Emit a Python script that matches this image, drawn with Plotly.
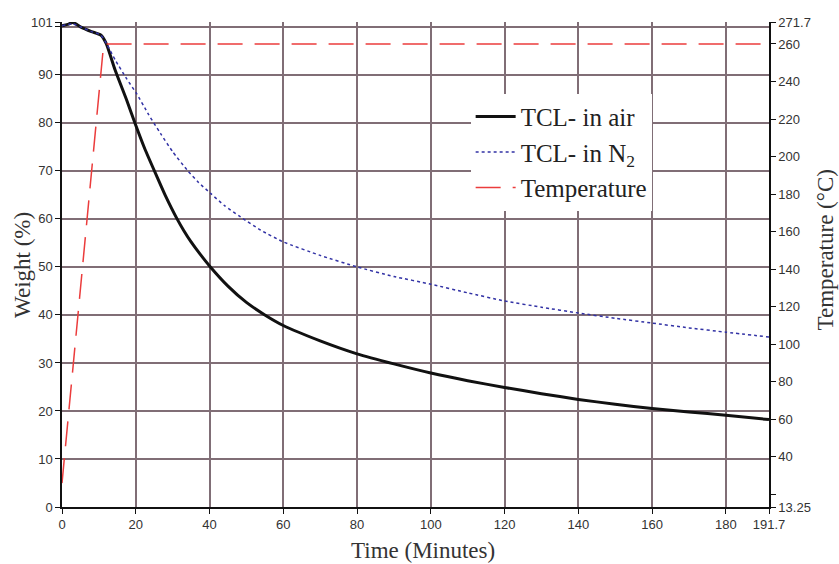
import plotly.graph_objects as go

# Time (minutes) / weight (%) for TCL in air
t_air = [0, 1.5, 3, 5, 8, 10.5, 12, 14.4, 17.6, 20, 22.5, 25.8, 28, 31.2, 33, 35, 37.5, 40,
         45, 50, 55, 60, 70, 80, 90, 100, 110, 120, 130, 140, 150, 160, 170, 180, 191.7]
w_air = [100.2, 100.5, 100.9, 100.0, 99.0, 98.3, 96.5, 91.0, 84.6, 79.5, 74.5, 68.7, 64.9,
         60.0, 57.6, 55.2, 52.6, 50.2, 46.0, 42.6, 40.0, 37.8, 34.6, 31.9, 29.8, 27.9,
         26.3, 24.9, 23.6, 22.4, 21.4, 20.5, 19.8, 19.1, 18.2]

# TCL in N2
t_n2 = [0, 3, 5, 8, 10.5, 12.2, 14.5, 17.6, 20.3, 23.5, 26.7, 30, 33.9, 37, 40.3, 44,
        48.4, 54, 60, 70, 80, 90, 100, 110, 120, 130, 140, 150, 160, 170, 180, 191.7]
w_n2 = [100.2, 100.6, 100.0, 99.0, 98.3, 96.3, 93.0, 89.1, 86.0, 81.7, 77.8, 74.0, 70.2,
        67.6, 65.3, 62.8, 60.4, 57.6, 55.2, 52.4, 50.0, 48.0, 46.4, 44.6, 42.9, 41.6,
        40.4, 39.3, 38.3, 37.3, 36.4, 35.4]

# Temperature program
t_temp = [0, 11.3, 191.7]
temp = [26, 260, 260]

x_ticks = [0, 20, 40, 60, 80, 100, 120, 140, 160, 180, 191.7]
x_labels = ["0", "20", "40", "60", "80", "100", "120", "140", "160", "180", "191.7"]
y_ticks = [0, 10, 20, 30, 40, 50, 60, 70, 80, 90, 101]
y_labels = ["0", "10", "20", "30", "40", "50", "60", "70", "80", "90", "101"]
y_minor = [100]
y2_ticks = [13.25, 40, 60, 80, 100, 120, 140, 160, 180, 200, 220, 240, 260, 271.7]
y2_labels = ["13.25", "40", "60", "80", "100", "120", "140", "160", "180", "200",
             "220", "240", "260", "271.7"]
y2_minor = [20]

grid_c = "rgb(128,110,118)"
tick_font = dict(family="Liberation Sans, Arial", size=13, color="#333333")
serif = "Liberation Serif, Times New Roman"

fig = go.Figure()
fig.add_trace(go.Scatter(x=t_air, y=w_air, mode="lines", name="TCL- in air",
                         line=dict(color="#111111", width=3, shape="spline", smoothing=0.5)))
fig.add_trace(go.Scatter(x=t_n2, y=w_n2, mode="lines", name="TCL- in N<sub>2</sub>",
                         line=dict(color="rgb(50,50,165)", width=1.5, dash="3px,3px",
                                   shape="spline", smoothing=0.5)))
fig.add_trace(go.Scatter(x=t_temp, y=temp, mode="lines", name="Temperature", yaxis="y2",
                         line=dict(color="rgb(235,60,60)", width=1.5, dash="25px,12px")))

fig.update_layout(
    width=839, height=564,
    margin=dict(l=62, r=70, t=22, b=57),
    paper_bgcolor="white", plot_bgcolor="white",
    showlegend=True,
    legend=dict(x=0.578, y=0.852, xanchor="left", yanchor="top",
                bgcolor="white", borderwidth=0,
                font=dict(family=serif, size=25, color="#222222"),
                tracegroupgap=0, itemwidth=40),
    xaxis=dict(range=[0, 191.7], tickvals=x_ticks, ticktext=x_labels,
               showgrid=True, gridcolor=grid_c, gridwidth=1.5,
               showline=True, linecolor="#111111", linewidth=1.5,
               ticks="outside", ticklen=5, tickcolor="#111111",
               tickfont=tick_font, zeroline=False),
    yaxis=dict(range=[0, 101], tickvals=y_ticks, ticktext=y_labels,
               showgrid=True, gridcolor=grid_c, gridwidth=1.5,
               showline=True, linecolor="#111111", linewidth=1.5,
               ticks="outside", ticklen=5, tickcolor="#111111",
               tickfont=tick_font, zeroline=False,
               minor=dict(tickmode="array", tickvals=y_minor, ticks="outside", ticklen=5,
                          tickcolor="#111111", showgrid=True, gridcolor=grid_c,
                          gridwidth=1.5)),
    yaxis2=dict(range=[13.25, 271.7], tickvals=y2_ticks, ticktext=y2_labels,
                overlaying="y", side="right", showgrid=False,
                showline=True, linecolor="#111111", linewidth=1.5,
                ticks="outside", ticklen=5, tickcolor="#111111",
                tickfont=tick_font, zeroline=False,
                minor=dict(tickmode="array", tickvals=y2_minor, ticks="outside", ticklen=5,
                           tickcolor="#111111", showgrid=False)),
    annotations=[
        dict(text="Time (Minutes)", xref="paper", yref="paper", x=0.511, y=-0.09,
             xanchor="center", yanchor="middle", showarrow=False,
             font=dict(family=serif, size=23, color="#333333")),
        dict(text="Weight (%)", xref="paper", yref="paper", x=-0.056, y=0.5,
             xanchor="center", yanchor="middle", showarrow=False, textangle=-90,
             font=dict(family=serif, size=23, color="#333333")),
        dict(text="Temperature (°C)", xref="paper", yref="paper", x=1.08, y=0.53,
             xanchor="center", yanchor="middle", showarrow=False, textangle=-90,
             font=dict(family=serif, size=23, color="#333333")),
    ],
)

fig.write_html("out.html")
